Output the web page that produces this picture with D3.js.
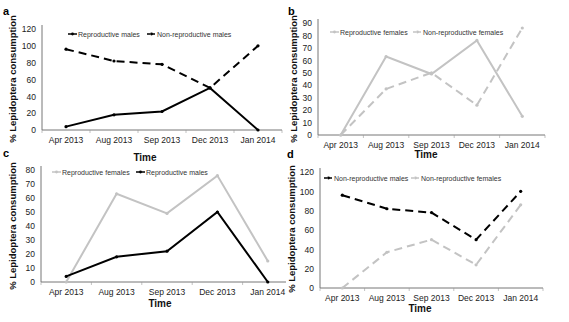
<!DOCTYPE html>
<html lang="en">
<head>
  <meta charset="UTF-8">
  <title>Lepidoptera consumption</title>
  <script src="https://d3js.org/d3.v7.min.js"></script>
  <style>
    body { margin: 0; background: #fff; font-family: 'Liberation Sans', Arial, sans-serif; }
    svg { display: block; }
    .tick text { font-size: 8.5px; fill: #222; }
    .legend text { font-size: 7px; fill: #333; }
    .ytitle, .xtitle { font-weight: bold; fill: #111; }
  </style>
</head>
<body>
  <script>
    // values
    var months = ["Apr 2013", "Aug 2013", "Sep 2013", "Dec 2013", "Jan 2014"];
    var reproMales = [4, 18, 22, 50, 0];
    var nonReproMales = [96, 82, 78, 50, 100];
    var reproFemales = [0, 63, 49, 76, 15];
    var nonReproFemales = [0, 37, 50, 24, 86];

    var BLACK = "#000", GREY = "#c3c3c3";

    var svg = d3.select("body").append("svg")
      .attr("width", 569)
      .attr("height", 322);

    svg.append("defs").append("clipPath").attr("id", "clipC")
      .append("rect").attr("x", 0).attr("y", 150).attr("width", 286).attr("height", 172);

    function drawPanel(p) {
      var g = svg.append("g");
      if (p.clip) g.attr("clip-path", "url(#" + p.clip + ")");

      var x = d3.scalePoint().domain(months).range([p.x0, p.x1]).padding(0.5);
      var y = d3.scaleLinear().domain([0, p.ymax]).range([p.y0, p.y1]);

      // y axis
      var yAxis = d3.axisLeft(y).tickValues(d3.range(0, p.ymax + 1, p.ystep)).tickSize(0).tickPadding(6);
      var ya = g.append("g").attr("transform", "translate(" + p.x0 + ",0)").call(yAxis);
      ya.select(".domain").attr("stroke", "#777").attr("d", "M0," + (p.y1 - 4) + "V" + p.y0);

      // x axis with small ticks between categories
      var xa = g.append("g").attr("transform", "translate(0," + p.y0 + ")");
      xa.append("line").attr("x1", p.x0).attr("x2", p.x1).attr("stroke", "#777");
      var step = x.step();
      xa.selectAll(".sep").data(d3.range(0, months.length + 1)).join("line")
        .attr("x1", function(i) { return p.x0 + i * step; })
        .attr("x2", function(i) { return p.x0 + i * step; })
        .attr("y1", 0).attr("y2", 3).attr("stroke", "#999").attr("stroke-width", 0.6);
      xa.selectAll(".tick").data(months).join("g").attr("class", "tick")
        .append("text")
        .attr("x", function(d) { return x(d); })
        .attr("y", 13)
        .attr("text-anchor", "middle")
        .text(function(d) { return d; });

      // titles
      g.append("text").attr("class", "ytitle")
        .attr("transform", "translate(" + p.ytx + "," + p.yty + ") rotate(-90)")
        .attr("text-anchor", "middle")
        .attr("font-size", "9.5px")
        .text("% Lepidoptera consumption");
      g.append("text").attr("class", "xtitle")
        .attr("x", p.ttx).attr("y", p.tty)
        .attr("text-anchor", "middle")
        .attr("font-size", "10px")
        .text("Time");
      svg.append("text")
        .attr("x", p.lx).attr("y", p.ly)
        .attr("font-weight", "bold")
        .attr("font-size", "11px")
        .text(p.label);

      var line = d3.line().x(function(d, i) { return x(months[i]); }).y(function(d) { return y(d); });

      p.series.forEach(function(s) {
        g.append("path")
          .datum(s.values)
          .attr("d", line)
          .attr("fill", "none")
          .attr("stroke", s.color)
          .attr("stroke-width", 2)
          .attr("stroke-dasharray", s.dashed ? "8,5" : null);
        g.selectAll(null).data(s.values).join("circle")
          .attr("cx", function(d, i) { return x(months[i]); })
          .attr("cy", function(d) { return y(d); })
          .attr("r", 1.6)
          .attr("fill", s.color);
      });

      // legend
      var lg = g.append("g").attr("class", "legend");
      p.series.forEach(function(s, i) {
        var lx = p.legend[i];
        lg.append("line")
          .attr("x1", lx).attr("x2", lx + 9)
          .attr("y1", p.legY).attr("y2", p.legY)
          .attr("stroke", s.color).attr("stroke-width", 1.5)
          .attr("stroke-dasharray", s.dashed ? "3,2" : null);
        lg.append("circle").attr("cx", lx + 4.5).attr("cy", p.legY).attr("r", 1.4).attr("fill", s.color);
        lg.append("text").attr("x", lx + 10).attr("y", p.legY + 2.5).text(s.name);
      });
    }

    drawPanel({
      label: "a", lx: 3, ly: 15,
      x0: 42, x1: 282, y0: 130, y1: 29, ymax: 120, ystep: 20,
      ytx: 16, yty: 79, ttx: 145, tty: 161,
      legY: 34, legend: [68, 147],
      series: [
        { name: "Reproductive males", values: reproMales, color: BLACK, dashed: false },
        { name: "Non-reproductive males", values: nonReproMales, color: BLACK, dashed: true }
      ]
    });

    drawPanel({
      label: "b", lx: 288, ly: 15,
      x0: 318, x1: 545, y0: 135, y1: 23, ymax: 90, ystep: 10,
      ytx: 297, yty: 79, ttx: 426, tty: 158,
      legY: 32, legend: [330, 413],
      series: [
        { name: "Reproductive females", values: reproFemales, color: GREY, dashed: false },
        { name: "Non-reproductive females", values: nonReproFemales, color: GREY, dashed: true }
      ]
    });

    drawPanel({
      label: "c", lx: 3, ly: 157, clip: "clipC",
      x0: 41, x1: 293, y0: 282, y1: 170, ymax: 80, ystep: 10,
      ytx: 16, yty: 226, ttx: 160, tty: 307,
      legY: 172, legend: [52, 136],
      series: [
        { name: "Reproductive females", values: reproFemales, color: GREY, dashed: false },
        { name: "Reproductive males", values: reproMales, color: BLACK, dashed: false }
      ]
    });

    drawPanel({
      label: "d", lx: 287, ly: 158,
      x0: 320, x1: 543, y0: 288, y1: 172, ymax: 120, ystep: 20,
      ytx: 295, yty: 229, ttx: 420, tty: 312,
      legY: 178, legend: [324, 411],
      series: [
        { name: "Non-reproductive males", values: nonReproMales, color: BLACK, dashed: true },
        { name: "Non-reproductive females", values: nonReproFemales, color: GREY, dashed: true }
      ]
    });
  </script>
</body>
</html>
